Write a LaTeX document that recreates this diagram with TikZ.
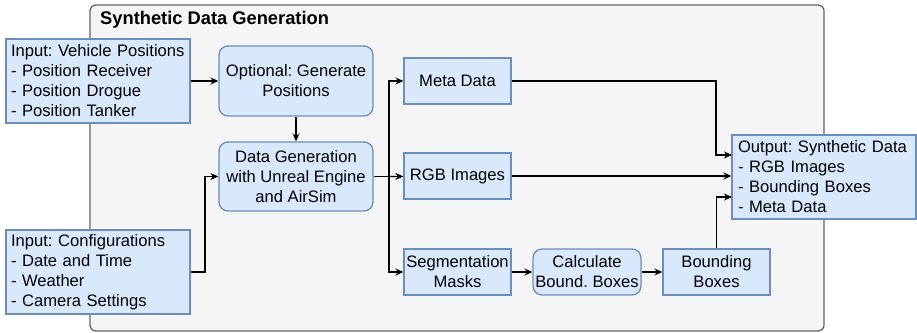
\documentclass[tikz,border=0pt]{standalone}
\usepackage{fontspec}
\setmainfont{Liberation Sans}
\definecolor{boxfill}{RGB}{218,232,252}
\definecolor{boxline}{RGB}{108,142,191}
\definecolor{groupfill}{RGB}{245,245,245}
\definecolor{groupline}{RGB}{102,102,102}
\usetikzlibrary{arrows.meta,positioning}
\frenchspacing

\begin{document}
\begin{tikzpicture}[x=1pt,y=-1pt,
							font=\fontsize{16.6}{20}\selectfont,
							blk/.style={rectangle,draw=boxline,fill=boxfill,line width=1.3pt,align=center,inner sep=0pt,minimum height=46pt},
							rblk/.style={blk,rounded corners=9pt},
							inbox/.style={blk,align=left,inner xsep=5pt,text width=174pt,minimum height=84pt},
							arr/.style={-{Stealth[length=8pt,width=7pt]},line width=1.3pt}]
							
							\useasboundingbox (0,0) rectangle (917,332);
							\draw[groupline,fill=groupfill,line width=1.3pt,rounded corners=6pt] (90,5) rectangle (824,331);
							\node[anchor=west,inner sep=0pt,font=\fontsize{18.3}{22}\selectfont\bfseries] (title) at (100,20) {Synthetic Data Generation};
							
							\node[inbox]  (vehpos)  at (98,81)    {Input: Vehicle Positions\\- Position Receiver\\- Position Drogue\\- Position Tanker};
							\node[inbox]  (config)  at (98,272)   {Input: Configurations\\- Date and Time\\- Weather\\- Camera Settings};
							\node[rblk,minimum width=154pt,minimum height=70pt] (optgen)  at (296,81)    {Optional: Generate\\Positions};
							\node[rblk,minimum width=154pt,minimum height=69pt] (datagen) at (296,176.5) {Data Generation\\with Unreal Engine\\and AirSim};
							\node[blk,minimum width=107pt]  (meta)  at (457.5,81)  {Meta Data};
							\node[blk,minimum width=107pt]  (rgb)   at (457.5,176) {RGB Images};
							\node[blk,minimum width=107pt]  (seg)   at (457.5,272) {Segmentation\\Masks};
							\node[rblk,minimum width=108pt] (calc)  at (587,272)   {Calculate\\Bound. Boxes};
							\node[blk,minimum width=107pt]  (bbox)  at (716.5,272) {Bounding\\Boxes};
							\node[blk,align=left,inner xsep=6pt,text width=172pt,minimum height=84pt] (output) at (824,177)
								{Output: Synthetic Data\\- RGB Images\\- Bounding Boxes\\- Meta Data};
							
							\coordinate (cfgturn) at (205,272);
							\coordinate (split)   at (389,176.5);
							\coordinate (mturn)   at (716,155);
							\coordinate (min)     at (732,155);
							\coordinate (bin)     at (732,197);
							
							\draw[arr] (vehpos)--(optgen);
							\draw[arr] (optgen)--(datagen);
							\draw[arr] (config)--(cfgturn)|-(datagen);
							\draw[line width=1.3pt] (datagen)--(split);
							\draw[arr] (split)|-(meta);
							\draw[arr] (split)--(rgb);
							\draw[arr] (split)|-(seg);
							\draw[arr] (seg)--(calc); \draw[arr] (calc)--(bbox);
							\draw[arr] (meta)-|(mturn)--(min);
							\draw[arr] (rgb)--(rgb-|output.west);
							\draw[arr] (bbox)|-(bin);
						\end{tikzpicture}
\end{document}
